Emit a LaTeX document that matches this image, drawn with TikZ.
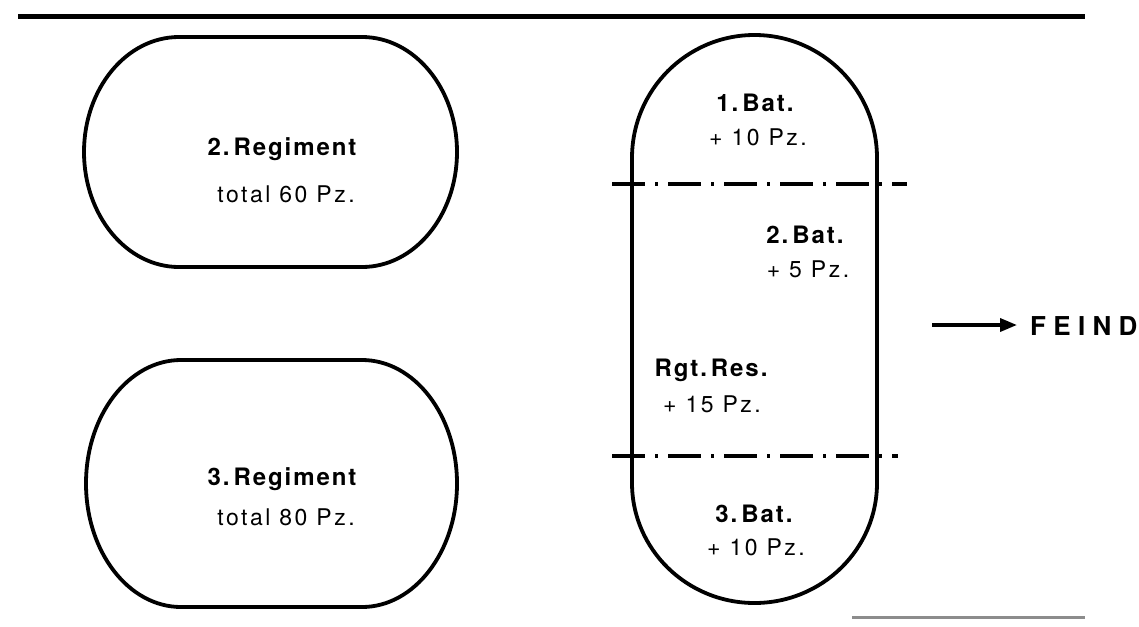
\documentclass[tikz,border=0pt]{standalone}
\usepackage{fontspec}
\setmainfont{TeX Gyre Heros}
\usetikzlibrary{arrows.meta}
\tikzset{
  outline/.style={line width=3.8pt},
  sepline/.style={line width=3.8pt, dash pattern=on 33pt off 10pt on 3pt off 10pt},
  title/.style={anchor=base, inner sep=0pt, font=\fontsize{24}{28}\selectfont\bfseries\addfontfeature{LetterSpace=8}},
  sub/.style={anchor=base, inner sep=0pt, font=\fontsize{23}{27}\selectfont\addfontfeature{LetterSpace=11}},
  enemy/.style={anchor=base west, inner sep=0pt, font=\fontsize{26}{30}\selectfont\bfseries\addfontfeature{LetterSpace=28}},
}
\begin{document}
\begin{tikzpicture}[x=1pt,y=-1pt]
\useasboundingbox (0,0) rectangle (1139,626);
% top rule
\draw[line width=5pt] (18,17) -- (1085,17);
% bottom faint rule
\draw[line width=3pt, black!45] (852,617) -- (1085,617);

% left upper regiment
\draw[outline] (179,37) -- (362,37)
  arc[start angle=-90, end angle=90, x radius=95, y radius=115]
  -- (179,267)
  arc[start angle=90, end angle=270, x radius=95, y radius=115] -- cycle;
% left lower regiment
\draw[outline] (181,360) -- (362,360)
  arc[start angle=-90, end angle=90, x radius=95, y radius=123.5]
  -- (181,607)
  arc[start angle=90, end angle=270, x radius=95, y radius=123.5] -- cycle;
% right regiment
\draw[outline] (632,158) -- (632,483)
  arc[start angle=180, end angle=0, x radius=122.5, y radius=120]
  -- (877,158)
  arc[start angle=0, end angle=-180, x radius=122.5, y radius=123] -- cycle;

% separator lines
\draw[sepline] (612,184) -- (907,184);
\draw[sepline] (612,456) -- (898,456);

% texts
\node[title] (r2) at (282,155) {2.\,Regiment};
\node[sub]   (r2t) at (286,202) {total 60 Pz.};
\node[title] (r3) at (282,485) {3.\,Regiment};
\node[sub]   (r3t) at (286,525) {total 80 Pz.};

\node[title] (b1) at (755,111) {1.\,Bat.};
\node[sub]   (b1t) at (758,145) {+ 10 Pz.};
\node[title] (b2) at (805,243) {2.\,Bat.};
\node[sub]   (b2t) at (808,277) {+ 5 Pz.};
\node[title] (rr) at (711,376) {Rgt.\,Res.};
\node[sub]   (rrt) at (712,412) {+ 15 Pz.};
\node[title] (b3) at (754,522) {3.\,Bat.};
\node[sub]   (b3t) at (756,555) {+ 10 Pz.};

% enemy arrow
\node[enemy] (feind) at (1030,335) {FEIND};
\coordinate (arrstart) at (932,325);
\coordinate (arrend) at (1017,325);
\draw[line width=3.5pt, -{Triangle[length=17pt,width=13pt]}] (arrstart) -- (arrend);
\end{tikzpicture}
\end{document}
